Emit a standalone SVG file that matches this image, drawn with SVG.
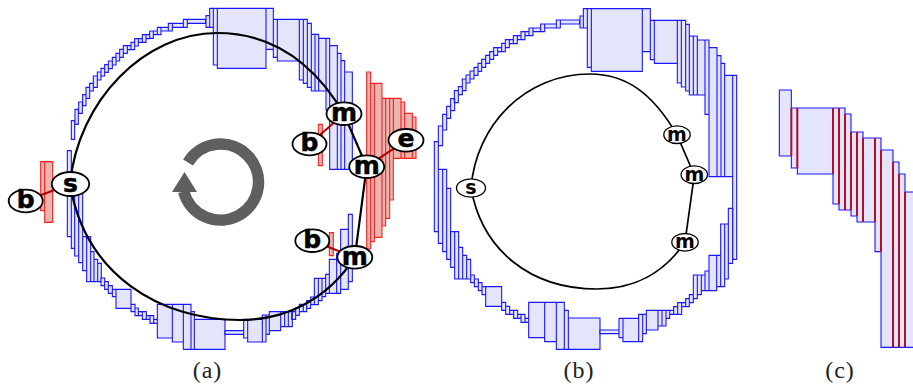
<svg xmlns="http://www.w3.org/2000/svg" width="913" height="390" viewBox="0 0 913 390">
<style>
.bl{fill:#e4e4fb;stroke:#0000ff;stroke-opacity:.9;stroke-width:3.3;stroke-linejoin:miter}
.rd{fill:#ecb6b0;stroke:#ff0000;stroke-opacity:.85;stroke-width:3.3}
.lnk{fill:none;stroke:#b00000;stroke-width:2}
.arc{fill:none;stroke:#000;stroke-width:2.2}
.arc2{fill:none;stroke:#000;stroke-width:1.7}
.n{fill:#fff;stroke:#000;stroke-width:1.8}
.n2{fill:#fff;stroke:#000;stroke-width:1.3}
.t{font-family:"DejaVu Sans",sans-serif;font-weight:bold;font-size:25px;text-anchor:middle;fill:#000;stroke:#000;stroke-width:.5}
.t2{font-family:"DejaVu Sans",sans-serif;font-weight:bold;font-size:19px;text-anchor:middle;fill:#000}
.cap{font-family:"Liberation Serif",serif;font-size:24px;letter-spacing:1px;text-anchor:middle;fill:#222}
</style>
<g id="red-bars">
<path class="rd" transform="scale(.33333)" d="M122 485H134V632H122ZM134 485H158V667H134Z"/>
<path class="rd" transform="translate(200 0) scale(.33333)" d="M355 373H367V497H355ZM388 698H400V767H388ZM500 216H512V747H500ZM512 250H523V725H512ZM523 250H546V712H523ZM546 295H557V678H546ZM557 295H569V655H557ZM569 295H580V600H569ZM580 295H603V475H580ZM603 306H614V475H603ZM614 340H637V475H614ZM637 351H648V475H637Z"/>
</g>
<g id="ring-a">
<path class="bl" transform="scale(.33333)" d="M202 452H214V710H202ZM214 362H224V418H214ZM225 328H235V373H225ZM236 306H247V340H236ZM248 284H258V317H248ZM258 262H269V295H258ZM269 250H280V273H269ZM280 228H292V262H280ZM292 216H303V240H292ZM303 205H314V228H303ZM314 194H325V217H314ZM325 183H337V206H325ZM337 172H348V195H337ZM348 160H359V183H348ZM359 148H370V172H359ZM370 137H382V160H370ZM382 137H393V149H382ZM393 127H404V149H393ZM404 116H415V138H404ZM415 116H427V127H415ZM427 104H438V127H427ZM438 104H449V116H438ZM449 93H460V115H449ZM460 93H472V104H460ZM472 82H483V104H472ZM483 82H505V93H483ZM505 70H517V93H505ZM517 70H550V82H517ZM550 58H562V82H550ZM562 58H617V70H562ZM214 530H224V745H214ZM224 530H236V768H224ZM236 530H248V788H236ZM248 710H260V812H248ZM260 710H272V845H260ZM272 755H282V845H272ZM282 778H293V845H282ZM293 790H304V845H293Z"/>
<path class="bl" transform="translate(0 190) scale(.33333)" d="M303 264H314V287H303ZM314 275H325V298H314ZM325 287H337V310H325ZM337 298H348V320H337ZM348 298H393V355H348ZM393 343H405V365H393ZM405 354H415V377H405ZM415 365H427V377H415ZM427 365H439V388H427ZM439 377H450V388H439ZM450 377H461V400H450ZM461 388H472V400H461ZM472 343H517V444H472ZM517 343H550V456H517ZM550 343H573V478H550ZM573 365H583V478H573ZM583 388H675V478H583Z"/>
<path class="bl" transform="translate(200 0) scale(.33333)" d="M18 47H29V82H18ZM29 25H40V82H29ZM40 25H52V195H40ZM52 25H198V205H52ZM198 25H220V148H198ZM220 58H232V172H220ZM232 58H298V183H232ZM298 58H310V240H298ZM310 58H322V250H310ZM322 70H334V262H322ZM334 103H345V273H334ZM345 103H356V273H345ZM356 115H378V273H356ZM378 115H389V330H378ZM389 137H412V508H389ZM412 160H423V508H412ZM423 182H434V508H423ZM434 216H457V508H434Z"/>
<path class="bl" transform="translate(200 190) scale(.33333)" d="M445 73H457V275H445ZM422 118H445V298H422ZM410 190H422V310H410ZM388 208H410V310H388ZM377 253H388V310H377ZM366 265H377V320H366ZM355 265H366V332H355ZM343 265H355V344H343ZM332 321H343V344H332ZM320 332H332V355H320ZM310 343H320V365H310ZM298 343H310V365H298ZM287 354H298V376H287ZM275 365H287V388H275ZM265 365H277V410H265ZM254 365H265V410H254ZM242 365H254V410H242ZM208 365H242V422H208ZM198 375H208V433H198ZM187 375H198V456H187ZM143 388H187V456H143ZM131 388H143V444H131ZM75 422H131V433H75Z"/>
</g>
<g id="ring-b">
<path class="bl" transform="translate(430 0) scale(.33333)" d="M13 425H25V695H13ZM25 378H38V437H25ZM38 343H50V390H38ZM50 319H62V355H50ZM62 296H74V332H62ZM73 272H85V308H73ZM85 260H97V284H85ZM97 237H108V272H97ZM108 225H120V249H108ZM120 213H132V237H120ZM132 202H144V226H132ZM144 190H155V214H144ZM155 178H167V202H155ZM167 166H179V190H167ZM179 155H191V178H179ZM191 143H203V166H191ZM203 143H215V155H203ZM215 130H226V155H215ZM226 119H238V143H226ZM238 119H250V131H238ZM250 107H262V131H250ZM262 107H273V119H262ZM273 95H285V119H273ZM285 95H297V107H285ZM297 84H309V107H297ZM309 84H332V95H309ZM332 72H344V95H332ZM344 72H379V84H344ZM379 60H391V84H379ZM391 60H449V72H391ZM25 508H38V730H25ZM38 508H50V755H38ZM50 565H62V778H50Z"/>
<path class="bl" transform="translate(430 190) scale(.33333)" d="M62 125H74V232H62ZM74 125H86V267H74ZM86 172H98V267H86ZM98 196H110V267H98ZM110 208H122V267H110ZM122 255H133V278H122ZM133 267H145V290H133ZM145 278H156V302H145ZM156 290H167V314H156ZM167 290H215V349H167ZM215 337H227V361H215ZM227 349H239V373H227ZM239 361H251V373H239ZM251 361H263V385H251ZM263 373H273V385H263ZM273 373H285V397H273ZM285 385H296V397H285ZM296 337H344V443H296ZM344 337H379V455H344ZM379 337H403V478H379ZM403 361H415V478H403ZM415 384H510V478H415Z"/>
<path class="bl" transform="translate(580 0) scale(.33333)" d="M0 48H10V84H0ZM10 26H22V84H10ZM22 26H34V202H22ZM34 26H187V214H34ZM187 26H211V155H187ZM211 61H223V179H211ZM223 61H292V190H223ZM292 61H304V249H292ZM304 61H317V261H304ZM317 73H328V273H317ZM328 108H340V285H328ZM340 108H352V285H340ZM352 120H375V285H352ZM375 120H387V343H375ZM387 143H411V530H387ZM411 167H423V530H411ZM423 190H434V530H423ZM434 226H458V530H434ZM458 226H470V778H458Z"/>
<path class="bl" transform="translate(580 190) scale(.33333)" d="M445 55H458V220H445ZM434 102H445V267H434ZM422 102H434V290H422ZM410 196H422V290H410ZM387 196H410V302H387ZM375 243H387V302H375ZM364 255H375V302H364ZM352 255H364V314H352ZM340 255H352V326H340ZM328 314H340V338H328ZM317 326H328V350H317ZM305 338H317V350H305ZM293 338H305V373H293ZM281 350H293V373H281ZM269 361H281V373H269ZM258 361H269V385H258ZM246 361H258V408H246ZM234 361H246V408H234ZM199 361H234V420H199ZM188 373H199V431H188ZM176 373H188V455H176ZM129 385H176V455H129ZM117 385H129V443H117ZM60 420H117V431H60Z"/>
</g>
<g id="panel-c">
<path class="bl" transform="translate(770 80) scale(.33333)" d="M28 30H64V228H28ZM64 84H82V264H64ZM82 84H189V282H82ZM189 84H207V372H189ZM207 84H225V390H207ZM225 102H243V390H225ZM243 156H261V408H243ZM261 156H279V426H261ZM279 174H315V426H279ZM315 174H333V515H315ZM333 210H369V802H333ZM369 246H387V802H369ZM387 282H405V802H387ZM405 336H440V802H405Z"/>
<path transform="translate(770 80) scale(.33333)" fill="none" stroke="#b2102a" stroke-width="6" d="M64 84V228M82 84V264M189 84V282M207 84V372M225 102V390M243 156V390M261 156V408M279 174V426M315 174V426M333 210V515M369 246V802M387 282V802M405 336V802"/>
</g>
<g id="rotation" fill="#5f5f5f">
<path d="M183.7 191.5A38 38 0 1 0 188 162.4" fill="none" stroke="#5f5f5f" stroke-width="11.5"/>
<path d="M184.5 172L172 192H197Z"/>
</g>
<g id="connectors">
<path class="lnk" d="M25.7 201L70 184M344 114L309.5 144M366.7 166.7L406 140.3M354.8 257.3L312.3 240.7"/>
<path class="arc" d="M70 184C78 100 145 33 217 33C270 33 312 60 344 114L366.7 166.7L354.8 257.3C327 300 285 320 240 320C160 320 85 275 70 184"/>
<path class="arc2" d="M471 188C476 125 525 74 590 74C625 74 652 92 677 135L694.3 175L685 242C665 272 635 289 597 289C530 289 482 250 471 188"/>
</g>
<g id="node-a-s"><ellipse class="n" cx="70.5" cy="184" rx="18.7" ry="12"/><text class="t" x="70.5" y="192">s</text></g>
<g id="node-a-b1"><ellipse class="n" cx="25.7" cy="201" rx="17" ry="11.3"/><text class="t" x="25.7" y="208">b</text></g>
<g id="node-a-m1"><ellipse class="n" cx="344" cy="113.7" rx="17.5" ry="11.3"/><text class="t" x="344" y="121">m</text></g>
<g id="node-a-b2"><ellipse class="n" cx="309.5" cy="144" rx="17" ry="11.3"/><text class="t" x="309.5" y="151">b</text></g>
<g id="node-a-e"><ellipse class="n" cx="406" cy="140.3" rx="17.5" ry="11.3"/><text class="t" x="406" y="147.3">e</text></g>
<g id="node-a-m2"><ellipse class="n" cx="366.7" cy="166.7" rx="17.5" ry="11.3"/><text class="t" x="366.7" y="174">m</text></g>
<g id="node-a-m3"><ellipse class="n" cx="354.8" cy="257.3" rx="17.5" ry="11.3"/><text class="t" x="354.8" y="264.6">m</text></g>
<g id="node-a-b3"><ellipse class="n" cx="312.3" cy="240.7" rx="17" ry="11.3"/><text class="t" x="312.3" y="247.7">b</text></g>
<g id="node-b-s"><ellipse class="n2" cx="471" cy="188" rx="14.5" ry="9.2"/><text class="t2" x="471" y="194">s</text></g>
<g id="node-b-m1"><ellipse class="n2" cx="677" cy="134.7" rx="13.2" ry="8.8"/><text class="t2" x="677" y="140.6">m</text></g>
<g id="node-b-m2"><ellipse class="n2" cx="694.3" cy="174.7" rx="13.2" ry="8.8"/><text class="t2" x="694.3" y="180.6">m</text></g>
<g id="node-b-m3"><ellipse class="n2" cx="685" cy="242.3" rx="13.2" ry="8.8"/><text class="t2" x="685" y="248.2">m</text></g>
<g id="captions">
<text class="cap" x="207.5" y="378">(a)</text>
<text class="cap" x="579" y="378">(b)</text>
<text class="cap" x="840" y="378">(c)</text>
</g>
</svg>
